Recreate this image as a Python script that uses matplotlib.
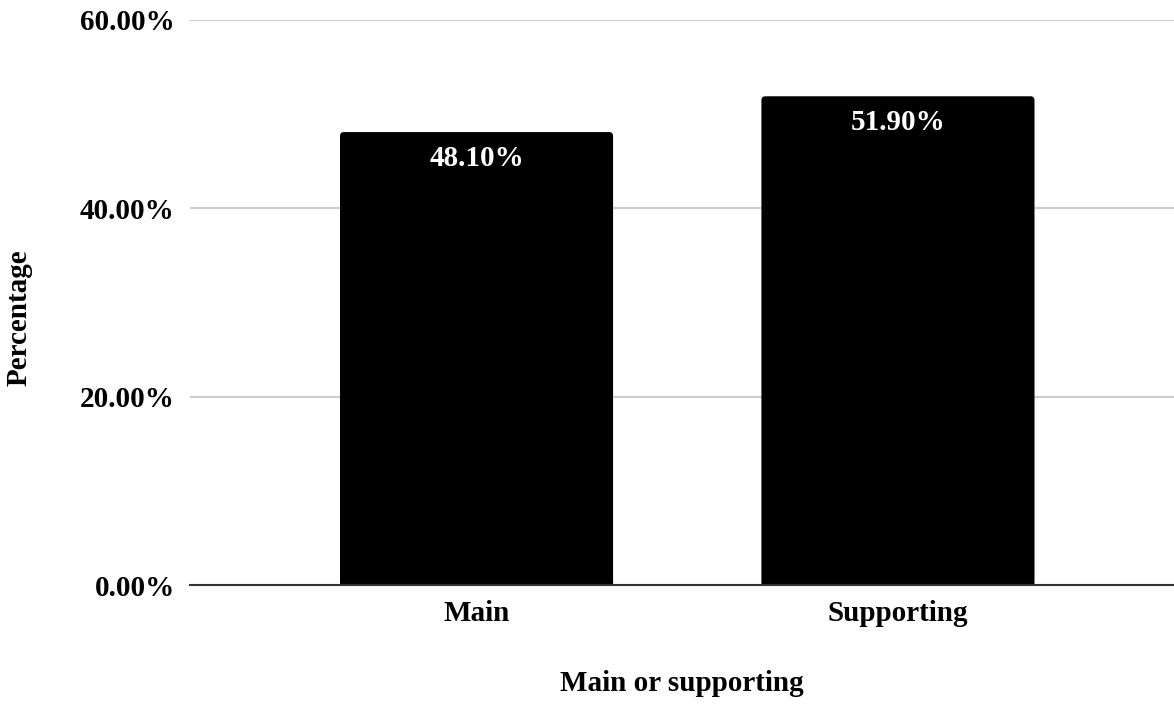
import matplotlib
matplotlib.use("Agg")
import matplotlib.pyplot as plt
from matplotlib.ticker import FuncFormatter
from matplotlib.patches import FancyBboxPatch

categories = ["Main", "Supporting"]
values = [48.10, 51.90]
yticks = [0, 20, 40, 60]

plt.rcParams['font.family'] = ['Liberation Serif', 'DejaVu Serif']
plt.rcParams['font.weight'] = 'bold'

FS = 21

fig = plt.figure(figsize=(11.74, 7.04), dpi=100)
ax = fig.add_axes([0.1618, 0.169, 0.8382, 0.8026])

ax.set_xlim(-0.68, 1.655)
ax.set_ylim(0, 60)

x = list(range(len(categories)))
bars = ax.bar(x, values, width=0.648, color='black', zorder=3)

# round the top corners of each bar (about 4 px)
fig.canvas.draw()
px_per_x = ax.transData.transform((1, 0))[0] - ax.transData.transform((0, 0))[0]
px_per_y = ax.transData.transform((0, 1))[1] - ax.transData.transform((0, 0))[1]
r_px = 4.0
rx = r_px / px_per_x
ry = r_px / px_per_y
for b in bars:
    x0, w, h = b.get_x(), b.get_width(), b.get_height()
    b.set_visible(False)
    p = FancyBboxPatch((x0, -2 * ry), w, h + 2 * ry,
                       boxstyle=f"round,pad=0,rounding_size={rx}",
                       mutation_aspect=ry / rx, facecolor='black', edgecolor='none', zorder=3)
    ax.add_patch(p)

for xi, v in zip(x, values):
    ax.annotate(f"{v:.2f}%", xy=(xi, v), xytext=(0, -19), textcoords='offset points',
                ha='center', va='center', color='white', fontsize=FS, fontweight='bold', zorder=4)

ax.set_yticks(yticks)
ax.yaxis.set_major_formatter(FuncFormatter(lambda v, p: f"{v:.2f}%"))
ax.set_xticks(x)
ax.set_xticklabels(categories)
ax.tick_params(axis='both', length=0, labelsize=FS)
ax.tick_params(axis='y', pad=11)
ax.tick_params(axis='x', pad=11)
for lab in ax.get_xticklabels() + ax.get_yticklabels():
    lab.set_fontweight('bold')

ax.grid(axis='y', color='#cccccc', linewidth=1.5, zorder=0)
for s in ['top', 'right', 'left']:
    ax.spines[s].set_visible(False)
ax.spines['bottom'].set_color('#333333')
ax.spines['bottom'].set_linewidth(1.5)
ax.spines['bottom'].set_zorder(5)

ax.set_xlabel("Main or supporting", fontsize=FS, fontweight='bold', labelpad=31)
ax.set_ylabel("Percentage", fontsize=FS, fontweight='bold')
ax.yaxis.set_label_coords(-0.160, 0.474)

fig.savefig("out.png", dpi=100)
